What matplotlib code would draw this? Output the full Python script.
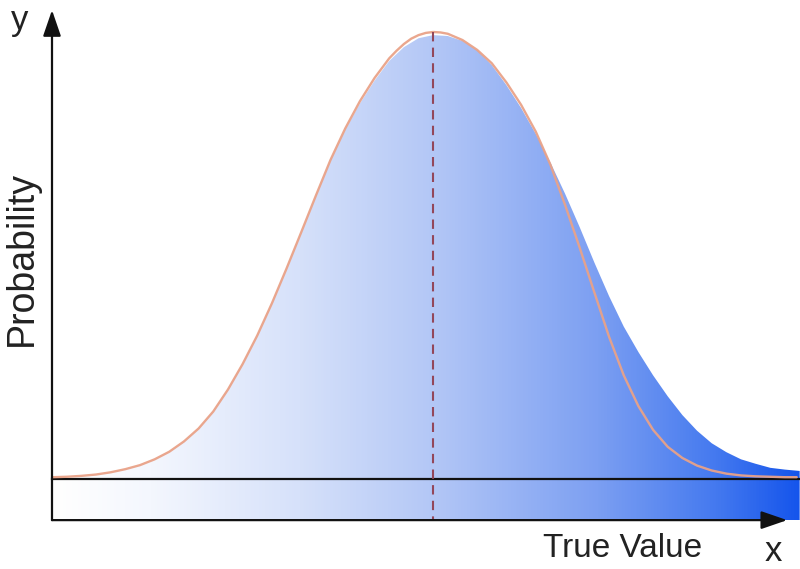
import numpy as np
import matplotlib
matplotlib.use("Agg")
import matplotlib.pyplot as plt
from matplotlib.colors import LinearSegmentedColormap
from matplotlib.patches import Polygon

plt.rcParams['font.family'] = ['Liberation Sans', 'DejaVu Sans']

# values (x = true value, y = relative probability)
orange_x = [0.0, 0.2, 0.4, 0.6, 0.8, 1.0, 1.2, 1.4, 1.6, 1.8, 2.0, 2.2, 2.4,
            2.6, 2.8, 3.0, 3.2, 3.4, 3.6, 3.8, 4.0, 4.2, 4.4, 4.6, 4.7, 4.8,
            4.9, 5.0, 5.1, 5.2, 5.3, 5.4, 5.6, 5.8, 6.0, 6.2, 6.4, 6.6, 6.8,
            7.0, 7.2, 7.4, 7.6, 7.8, 8.0, 8.2, 8.4, 8.6, 8.8, 9.0, 9.2, 9.4,
            9.6, 9.8, 10.0, 10.16]
orange_y = [0.004, 0.005, 0.007, 0.010, 0.015, 0.022, 0.031, 0.044, 0.061,
            0.084, 0.113, 0.151, 0.200, 0.257, 0.321, 0.393, 0.471, 0.552,
            0.634, 0.714, 0.784, 0.845, 0.897, 0.941, 0.958, 0.973, 0.985,
            0.993, 0.998, 1.0, 0.999, 0.996, 0.982, 0.960, 0.930, 0.887,
            0.837, 0.777, 0.703, 0.613, 0.517, 0.417, 0.318, 0.232, 0.163,
            0.110, 0.072, 0.047, 0.030, 0.019, 0.012, 0.008, 0.006, 0.005,
            0.004, 0.004]

blue_x = [0.0, 0.2, 0.4, 0.6, 0.8, 1.0, 1.2, 1.4, 1.6, 1.8, 2.0, 2.2, 2.4,
          2.6, 2.8, 3.0, 3.2, 3.4, 3.6, 3.8, 4.0, 4.2, 4.4, 4.6, 4.8, 5.0,
          5.2, 5.4, 5.6, 5.8, 6.0, 6.2, 6.4, 6.6, 6.8, 7.0, 7.2, 7.4, 7.6,
          7.8, 8.0, 8.2, 8.4, 8.6, 8.8, 9.0, 9.2, 9.4, 9.6, 9.8, 10.0, 10.2]
blue_y = [0.004, 0.005, 0.007, 0.010, 0.015, 0.022, 0.031, 0.044, 0.061,
          0.084, 0.113, 0.151, 0.200, 0.257, 0.321, 0.393, 0.471, 0.552,
          0.634, 0.713, 0.781, 0.840, 0.891, 0.935, 0.966, 0.986, 0.993,
          0.991, 0.980, 0.959, 0.926, 0.881, 0.830, 0.772, 0.708, 0.638,
          0.563, 0.484, 0.409, 0.341, 0.284, 0.232, 0.185, 0.143, 0.108,
          0.080, 0.060, 0.044, 0.034, 0.025, 0.021, 0.018]

mean_x = 5.2
peak_y = 1.0
axis_y = -0.092
x_end, x_arrow = 10.2, 10.03
y_arrow = 1.049

fill_colors = [(0.0, '#ffffff'), (0.13, '#f4f7fe'), (0.33, '#d6e1fa'),
               (0.51, '#b3c7f6'), (0.73, '#7c9ff2'), (0.89, '#4479ef'),
               (1.0, '#1555ec')]

fig = plt.figure(figsize=(8, 5.69), dpi=100)
ax = fig.add_axes([0, 0, 1, 1])

# gradient fill under the blue curve, down to the x axis
cmap = LinearSegmentedColormap.from_list('fill', fill_colors)
grad = np.linspace(0, 1, 512).reshape(1, -1)
im = ax.imshow(grad, extent=[0, x_end, axis_y, peak_y], aspect='auto',
               cmap=cmap, origin='lower', zorder=1)
verts = [(blue_x[0], axis_y)] + list(zip(blue_x, blue_y)) + [(blue_x[-1], axis_y)]
poly = Polygon(verts, closed=True, facecolor='none', edgecolor='none')
ax.add_patch(poly)
im.set_clip_path(poly)

# baseline
ax.plot([0, x_end], [0, 0], color='#111111', lw=1.6, zorder=2)

# distribution curve
ax.plot(orange_x, orange_y, color='#e9a288', lw=1.7, alpha=0.95, zorder=3,
        solid_capstyle='round', solid_joinstyle='round')

# mean
ax.plot([mean_x, mean_x], [peak_y, axis_y], color='#93475a', lw=1.5,
        linestyle=(0, (4.5, 3)), zorder=4)

# axes with arrow heads
arrow = dict(arrowstyle='-|>,head_length=1.6,head_width=0.55',
             mutation_scale=10, lw=1.6, color='#111111',
             shrinkA=0, shrinkB=0)
ax.annotate('', xy=(0, y_arrow), xytext=(0, axis_y), arrowprops=arrow, zorder=5)
ax.annotate('', xy=(x_arrow, axis_y), xytext=(0, axis_y), arrowprops=arrow, zorder=5)

ax.text(-0.437, 1.004, 'y', fontsize=25, ha='center', va='baseline', color='#222222')
ax.text(9.84, -0.2002, 'x', fontsize=25, ha='center', va='bottom', color='#222222')
ax.text(6.70, -0.174, 'True Value', fontsize=24, ha='left', va='baseline', color='#222222')
ax.text(-0.41, 0.494, 'Probability', fontsize=27, rotation=90,
        ha='center', va='center', color='#222222')

ax.set_xlim(-52 / 73.3, 748 / 73.3)
ax.set_ylim(-90 / 447, 479 / 447)
ax.axis('off')

fig.savefig('out.png', dpi=100)
